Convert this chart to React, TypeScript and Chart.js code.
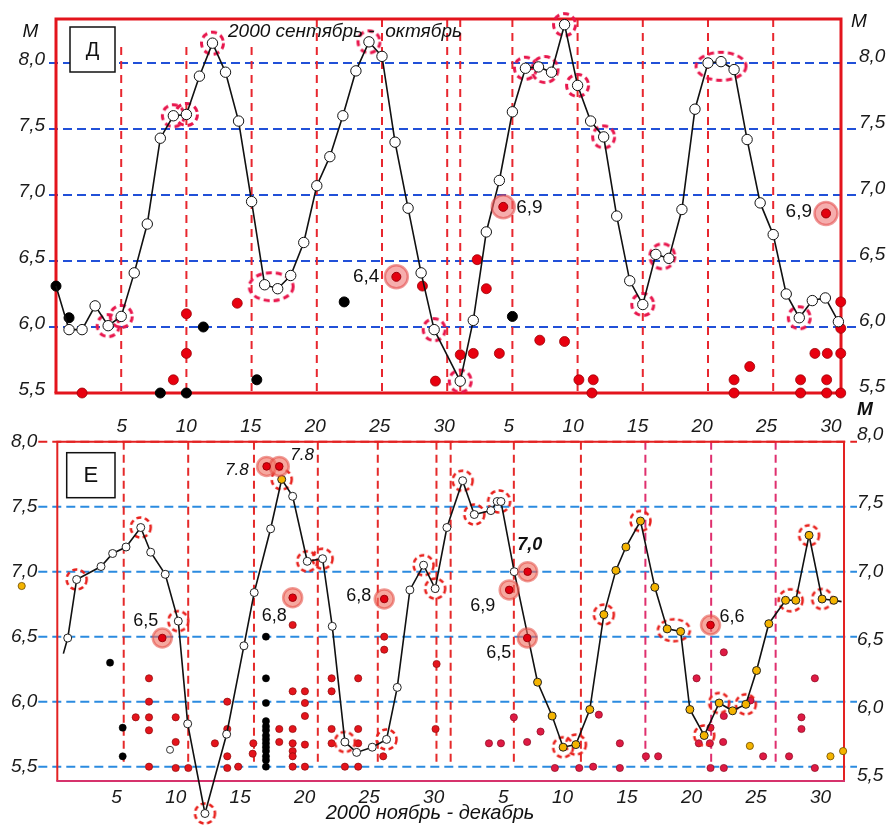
import React, { useEffect, useRef } from "react";
import { Chart, registerables } from "chart.js";

Chart.register(...registerables);

const FONT = '"Liberation Sans", Arial, Helvetica, sans-serif';

// ================= Panel Д : September – October 2000 (1–30 = Sep, 31–60 = Oct) =================
const topDays = [0, 1, 2, 3, 4, 5, 6, 7, 8, 9, 10, 11, 12, 13, 14, 15, 16, 17, 18, 19, 20, 21, 22, 23, 24, 25, 26, 27, 28, 29,
  31, 32, 33, 34, 35, 36, 37, 38, 39, 40, 41, 42, 43, 44, 45, 46, 47, 48, 49, 50, 51, 52, 53, 54, 55, 56, 57, 58, 59, 60];
const topValues = [6.31, 5.98, 5.98, 6.16, 6.01, 6.08, 6.41, 6.78, 7.43, 7.60, 7.61, 7.90, 8.15, 7.93, 7.56, 6.95, 6.32, 6.29, 6.39, 6.64,
  7.07, 7.29, 7.60, 7.94, 8.16, 8.05, 7.40, 6.90, 6.41, 5.98,
  5.59, 6.05, 6.72, 7.11, 7.63, 7.96, 7.97, 7.93, 8.29, 7.83, 7.56, 7.44, 6.84, 6.35, 6.17, 6.55, 6.52, 6.89, 7.65, 8.00,
  8.01, 7.95, 7.42, 6.94, 6.70, 6.25, 6.07, 6.20, 6.22, 6.04];
const topBlackX = [0, 1, 8, 10, 11.3, 15.4, 22.1, 35];
const topBlackY = [6.31, 6.07, 5.5, 5.5, 6.0, 5.6, 6.19, 6.08];
const topRedX = [2, 9, 10, 10, 13.9, 28.1, 29.1, 31, 32, 32.3, 33, 34, 37.1, 39, 40.1, 41.2, 41.1, 52, 52, 53.2,
  57.1, 57.1, 58.2, 59.1, 59.15, 59.1, 60.18, 60.18, 60.18, 60.18];
const topRedY = [5.5, 5.6, 6.10, 5.80, 6.18, 6.31, 5.59, 5.79, 5.80, 6.51, 6.29, 5.80, 5.90, 5.89, 5.60, 5.60, 5.5, 5.6, 5.5, 5.70,
  5.6, 5.5, 5.80, 5.6, 5.80, 5.5, 5.80, 5.99, 6.19, 5.5];
const topHaloX = [26.1, 34.3, 59.05];
const topHaloY = [6.38, 6.91, 6.86];
const topHaloText = ["6,4", "6,9", "6,9"];
const topRingGroups = [[4], [5], [9], [10], [12], [16, 17], [24], [29], [31], [36], [37, 38], [39], [40], [42], [45], [46, 47], [50, 52], [57]];
const topVLines = [5, 10, 15, 20, 25, 30, 31, 35, 40, 45, 50, 55];
const topHLines = [6, 6.5, 7, 7.5, 8];

// ================= Panel Е : November – December 2000 (1–30 = Nov, 31–61 = Dec) =================
const bottomX = [0.47, 0.81, 1.50, 3.39, 4.29, 5.33, 6.47, 7.24, 8.37, 9.38, 10.11, 11.45, 13.13, 14.47, 15.27, 16.54, 17.40, 18.25,
  19.38, 20.57, 21.32, 22.30, 23.21, 24.42, 25.53, 26.36, 27.34, 28.40, 29.30, 30.21, 31.43, 32.33, 33.62, 34.11, 34.40, 35.43,
  37.24, 38.37, 39.22, 40.21, 41.29, 42.38, 43.31, 44.09, 45.22, 46.33, 47.29, 48.33, 49.05, 50.16, 51.32, 52.36, 53.39, 54.22,
  55.17, 56.47, 57.26, 58.29, 59.30, 60.21, 60.81];
const bottomY = [6.37, 6.49, 6.94, 7.04, 7.14, 7.19, 7.34, 7.15, 6.98, 6.62, 5.83, 5.14, 5.75, 6.43, 6.84, 7.33, 7.71, 7.58,
  7.08, 7.10, 6.58, 5.69, 5.61, 5.65, 5.71, 6.11, 6.86, 7.05, 6.87, 7.34, 7.70, 7.44, 7.47, 7.54, 7.54, 7.00,
  6.15, 5.89, 5.65, 5.67, 5.94, 6.67, 7.01, 7.19, 7.39, 6.88, 6.56, 6.54, 5.94, 5.74, 5.99, 5.93, 5.98, 6.24,
  6.60, 6.78, 6.78, 7.28, 6.79, 6.78, 6.77];
// marker kind per point: "-" none, "w" white, "o" orange
const bottomKind = ("-" + "w".repeat(15) + "o" + "w".repeat(19) + "o".repeat(24) + "-").split("");
const bottomBlackX = [4.09, 5.07, 5.07, 16.18, 16.18, 16.18, 16.18, 16.18, 16.18, 16.18, 16.18, 16.18, 16.18, 16.18, 16.18, 16.18, 16.18];
const bottomBlackY = [6.30, 5.80, 5.58, 6.50, 6.18, 5.99, 5.85, 5.81, 5.78, 5.74, 5.71, 5.68, 5.65, 5.62, 5.58, 5.55, 5.50];
const bottomRedX = [6.08, 7.11, 7.11, 7.11, 7.11, 7.11, 9.18, 9.18, 9.18, 10.16, 12.22, 13.18, 13.18, 13.18, 13.18, 14.03, 15.15, 15.2,
  17.21, 17.21, 18.25, 18.25, 18.25, 18.25, 18.25, 18.25, 18.25, 19.2, 19.2, 19.2, 19.2, 19.2, 21.27, 21.27, 21.27, 21.27, 22.3,
  23.33, 23.33, 23.33, 23.33, 25.35, 25.35, 25.27, 29.41, 29.33];
const bottomRedY = [5.88, 6.18, 6.00, 5.88, 5.78, 5.50, 5.88, 5.69, 5.49, 5.49, 5.68, 6.00, 5.79, 5.58, 5.49, 5.50, 5.60, 5.68,
  5.79, 5.69, 6.59, 6.08, 5.79, 5.68, 5.62, 5.58, 5.50, 6.08, 5.99, 5.89, 5.67, 5.50, 6.18, 6.08, 5.79, 5.68, 5.50,
  6.18, 5.79, 5.68, 5.50, 6.50, 6.40, 5.58, 6.29, 5.79];
const bottomDecX = [33.47, 34.4, 35.4, 36.43, 37.47, 38.58, 40.47, 41.55, 41.99, 43.62, 43.62, 45.64, 46.59, 49.57, 49.74, 50.6,
  50.65, 50.65, 51.68, 51.68, 51.63, 51.68, 53.75, 54.73, 56.74, 57.7, 57.7, 58.74, 58.74];
const bottomDecY = [5.68, 5.68, 5.88, 5.69, 5.77, 5.49, 5.49, 5.50, 5.90, 5.68, 5.49, 5.58, 5.58, 6.18, 5.68, 5.68,
  5.80, 5.49, 6.38, 5.89, 5.69, 5.49, 6.01, 5.58, 5.58, 5.88, 5.79, 6.18, 5.49];
const bottomOrangeX = [-2.76, 53.7, 59.95, 60.93];
const bottomOrangeY = [6.89, 5.66, 5.58, 5.62];
const bottomOpenX = [8.74];
const bottomOpenY = [5.63];
const bottomHaloX = [16.23, 17.21, 8.14, 18.25, 25.35, 35.04, 36.47, 36.44, 50.65];
const bottomHaloY = [7.81, 7.81, 6.49, 6.80, 6.79, 6.86, 7.00, 6.49, 6.59];
const bottomHaloText = ["7.8", "7.8", "6,5", "6,8", "6,8", "6,9", "7,0", "6,5", "6,6"];
const bottomRingGroups = [[2], [6], [9], [11], [16], [18], [19], [21], [24], [27], [28], [30], [31], [33, 34], [38], [39], [41], [44],
  [46, 47], [49], [50], [52], [55, 56], [57], [58]];
const bottomVLines = [5.15, 10.15, 15.25, 20.2, 24.85, 29.4, 30.5, 35.4, 40.6, 45.6, 50.7, 55.7];
const bottomHLines = [5.5, 6, 6.5, 7, 7.5, 8];

const yTickValues = [5.5, 6, 6.5, 7, 7.5, 8];
const xTickValues = [5, 10, 15, 20, 25, 30, 35, 40, 45, 50, 55, 60];

// ================= styles (kept apart from data) =================
const topRingSize = [[22, 22], [22, 22], [22, 22], [22, 22], [22, 22], [44, 28], [22, 22], [22, 22], [22, 22], [22, 22], [26, 26],
  [22, 22], [22, 22], [22, 22], [22, 22], [25, 25], [50, 28], [22, 22]];
const bottomRingSize = [[20, 20], [20, 20], [20, 20], [20, 20], [20, 20], [20, 20], [20, 20], [20, 20], [20, 20], [20, 20], [20, 20],
  [20, 20], [20, 20], [22, 22], [20, 20], [20, 20], [20, 20], [20, 20], [32, 22], [20, 20], [20, 20], [20, 20], [24, 22], [20, 20], [20, 20]];
const topHaloStyle = [
  { dx: -17, dy: 0, align: "right", font: `19px ${FONT}` },
  { dx: 13, dy: 1, align: "left", font: `19px ${FONT}` },
  { dx: -14, dy: -2, align: "right", font: `19px ${FONT}` },
];
const bottomHaloStyle = [
  { dx: -18, dy: 4, align: "right", font: `italic 17px ${FONT}` },
  { dx: 11, dy: -11, align: "left", font: `italic 17px ${FONT}` },
  { dx: -4, dy: -17, align: "right", font: `18px ${FONT}` },
  { dx: -6, dy: 18, align: "right", font: `18px ${FONT}` },
  { dx: -13, dy: -3, align: "right", font: `18px ${FONT}` },
  { dx: -14, dy: 16, align: "right", font: `18px ${FONT}` },
  { dx: 2, dy: -27, align: "center", font: `italic bold 18px ${FONT}` },
  { dx: -16, dy: 15, align: "right", font: `18px ${FONT}` },
  { dx: 9, dy: -8, align: "left", font: `18px ${FONT}` },
];

const fmtM = (v: number) => Number(v).toFixed(1).replace(".", ",");
const dayLabel = (v: number) => String(v > 30 ? v - 30 : v);
const avg = (a: number[]) => a.reduce((s, v) => s + v, 0) / a.length;
const pts = (xs: number[], ys: number[]) => xs.map((x, i) => ({ x, y: ys[i] }));

function ringImage(w: number, h: number, color: string, lw: number, dash: number[]) {
  const c = document.createElement("canvas");
  c.width = Math.ceil(w + lw + 4);
  c.height = Math.ceil(h + lw + 4);
  const g = c.getContext("2d")!;
  g.strokeStyle = color;
  g.lineWidth = lw;
  g.setLineDash(dash);
  g.beginPath();
  g.ellipse(c.width / 2, c.height / 2, w / 2, h / 2, 0, 0, Math.PI * 2);
  g.stroke();
  return c;
}

function fixedSize(size: number, horizontal: boolean) {
  return (s: any) => {
    if (horizontal) s.height = size;
    else s.width = size;
    s.paddingTop = 0;
    s.paddingBottom = 0;
    s.paddingLeft = 0;
    s.paddingRight = 0;
  };
}
const setTicks = (vals: number[]) => (s: any) => {
  s.ticks = vals.map((v) => ({ value: v }));
};

function makeDecor(cfg: any) {
  return {
    id: "decor",
    beforeDatasetsDraw(chart: any) {
      const { ctx, chartArea: a } = chart;
      const xs = chart.scales.x;
      const ys = chart.scales.y;
      ctx.save();
      ctx.lineWidth = cfg.gridWidth;
      ctx.setLineDash(cfg.hDash);
      cfg.hLines.forEach((v: number) => {
        const py = ys.getPixelForValue(v);
        ctx.strokeStyle = v === cfg.redHLine ? cfg.frameColor : cfg.hColor;
        ctx.beginPath();
        ctx.moveTo(a.left - cfg.extL, py);
        ctx.lineTo(a.right + cfg.extR, py);
        ctx.stroke();
      });
      ctx.setLineDash(cfg.vDash);
      cfg.vLines.forEach((v: number, i: number) => {
        const px = xs.getPixelForValue(v);
        const y0 = cfg.vFrom ? Math.max(ys.getPixelForValue(cfg.vFrom[i]), a.top) : a.top;
        const y1 = cfg.vTo != null ? ys.getPixelForValue(cfg.vTo) : a.bottom;
        ctx.strokeStyle = cfg.vColors[i];
        ctx.beginPath();
        ctx.moveTo(px, y0);
        ctx.lineTo(px, y1);
        ctx.stroke();
      });
      ctx.setLineDash([]);
      ctx.lineWidth = cfg.frameWidth;
      ctx.strokeStyle = cfg.frameColor;
      ctx.beginPath();
      ctx.moveTo(a.left, a.bottom);
      ctx.lineTo(a.left, a.top);
      ctx.lineTo(a.right, a.top);
      ctx.lineTo(a.right, a.bottom);
      ctx.stroke();
      ctx.strokeStyle = cfg.frameBottomColor;
      ctx.beginPath();
      ctx.moveTo(a.left - cfg.frameWidth / 2, a.bottom);
      ctx.lineTo(a.right + cfg.frameWidth / 2, a.bottom);
      ctx.stroke();
      ctx.restore();
    },
    afterDraw(chart: any) {
      const { ctx } = chart;
      const xs = chart.scales.x;
      const ys = chart.scales.y;
      ctx.save();
      ctx.textBaseline = "middle";
      const b = cfg.box;
      ctx.fillStyle = "#fff";
      ctx.fillRect(b.x, b.y, b.w, b.h);
      ctx.strokeStyle = "#111";
      ctx.lineWidth = 1.5;
      ctx.strokeRect(b.x, b.y, b.w, b.h);
      ctx.fillStyle = "#111";
      ctx.font = b.font;
      ctx.textAlign = "center";
      ctx.fillText(b.text, b.x + b.w / 2, b.y + b.h / 2 + 1);
      cfg.texts.forEach((t: any) => {
        ctx.font = t.font;
        ctx.textAlign = t.align || "center";
        ctx.fillStyle = "#111";
        ctx.fillText(t.text, t.x, t.y);
      });
      cfg.haloX.forEach((hx: number, i: number) => {
        const s = cfg.haloStyle[i];
        ctx.font = s.font;
        ctx.textAlign = s.align;
        ctx.fillStyle = "#111";
        ctx.fillText(cfg.haloText[i], xs.getPixelForValue(hx) + s.dx, ys.getPixelForValue(cfg.haloY[i]) + s.dy);
      });
      ctx.restore();
    },
  };
}

const tickFont = { family: FONT, size: 19, style: "italic" as const };

function yAxis(position: string, min: number, max: number, width: number, padding: number, labelOffset: number) {
  return {
    type: "linear",
    position,
    min,
    max,
    grid: { display: false, drawTicks: false },
    border: { display: false },
    afterBuildTicks: setTicks(yTickValues),
    afterFit: fixedSize(width, false),
    ticks: { callback: fmtM, padding, labelOffset, color: "#1a1a1a", font: tickFont, autoSkip: false },
  };
}

function xAxis(position: string, height: number, padding: number, align: string) {
  return {
    type: "linear",
    position,
    min: 0,
    max: 61,
    grid: { display: false, drawTicks: false },
    border: { display: false },
    afterBuildTicks: setTicks(xTickValues),
    afterFit: fixedSize(height, true),
    ticks: { callback: dayLabel, padding, align, color: "#1a1a1a", font: tickFont, autoSkip: false, maxRotation: 0 },
  };
}

function topConfig(): any {
  const series = topDays.map((d, i) => ({ x: d, y: topValues[i] }));
  const ringPts = topRingGroups.map((g) => {
    const idx = g.map((d) => topDays.indexOf(d));
    return { x: avg(idx.map((i) => topDays[i])), y: avg(idx.map((i) => topValues[i])) };
  });
  const ringStyles = topRingSize.map(([w, h]) => ringImage(w, h, "#e8174d", 3, [6, 4]));
  const halos = pts(topHaloX, topHaloY);
  return {
    type: "scatter",
    data: {
      datasets: [
        { label: "peak", data: halos, pointRadius: 4.5, pointBackgroundColor: "#e3000f", pointBorderColor: "#9c0008", pointBorderWidth: 1, order: 0 },
        { label: "halo", data: halos, pointRadius: 11.5, pointBackgroundColor: "rgba(238,105,105,0.55)", pointBorderColor: "rgba(225,70,70,0.55)", pointBorderWidth: 2.5, order: 1 },
        {
          label: "M", data: series, showLine: true, borderColor: "#111", borderWidth: 1.6, tension: 0,
          pointRadius: topDays.map((d) => (d === 0 ? 0 : 5.2)), pointBackgroundColor: "#fff", pointBorderColor: "#111",
          pointBorderWidth: 1, pointHoverRadius: 30, clip: false, order: 2,
        },
        { label: "rings", data: ringPts, pointStyle: ringStyles, pointRadius: 11, pointBorderWidth: 0, pointHoverRadius: 40, clip: false, order: 3 },
        { label: "black", data: pts(topBlackX, topBlackY), pointRadius: 5, pointBackgroundColor: "#000", pointBorderColor: "#000", pointBorderWidth: 1, clip: false, order: 4 },
        { label: "red", data: pts(topRedX, topRedY), pointRadius: 5, pointBackgroundColor: "#e8000f", pointBorderColor: "#9a0008", pointBorderWidth: 0.8, clip: false, order: 5 },
      ],
    },
    options: {
      responsive: false,
      animation: false,
      events: [],
      layout: { autoPadding: false, padding: { top: 19, bottom: 7, left: 0, right: 0 } },
      plugins: { legend: { display: false }, tooltip: { enabled: false } },
      scales: {
        x: { type: "linear", min: 0, max: 60.2, display: false },
        y: yAxis("left", 5.5, 8.333, 56, 11, -3.5),
        y2: yAxis("right", 5.5, 8.333, 50, 18, -6.5),
      },
    },
    plugins: [
      makeDecor({
        hLines: topHLines, hColor: "#2150d8", hDash: [9, 5], gridWidth: 2, extL: 7, extR: 19, redHLine: null,
        vLines: topVLines, vColors: topVLines.map(() => "#e8262e"), vDash: [8, 6],
        vFrom: [8.12, 8.12, 8.12, 9, 9, 9, 9, 9, 9, 9, 9, 9], vTo: null,
        frameWidth: 3, frameColor: "#e3141c", frameBottomColor: "#e3141c",
        box: { x: 70, y: 27, w: 45, h: 45, text: "Д", font: `20px ${FONT}` },
        texts: [
          { text: "M", x: 30.5, y: 32, font: `italic 19px ${FONT}` },
          { text: "M", x: 859, y: 22, font: `italic 19px ${FONT}` },
          { text: "2000 сентябрь -  октябрь", x: 345, y: 32, font: `italic 19px ${FONT}` },
        ],
        haloX: topHaloX, haloY: topHaloY, haloText: topHaloText, haloStyle: topHaloStyle,
      }),
    ],
  };
}

function bottomConfig(): any {
  const series = pts(bottomX, bottomY);
  const ringPts = bottomRingGroups.map((g) => ({ x: avg(g.map((i) => bottomX[i])), y: avg(g.map((i) => bottomY[i])) }));
  const ringStyles = bottomRingSize.map(([w, h]) => ringImage(w, h, "#e8211d", 2.5, [5, 3.5]));
  const halos = pts(bottomHaloX, bottomHaloY);
  return {
    type: "scatter",
    data: {
      datasets: [
        { label: "peak", data: halos, pointRadius: 3.8, pointBackgroundColor: "#e3000f", pointBorderColor: "#9c0008", pointBorderWidth: 1, order: 0 },
        { label: "halo", data: halos, pointRadius: 9.5, pointBackgroundColor: "rgba(240,110,95,0.6)", pointBorderColor: "rgba(228,75,65,0.55)", pointBorderWidth: 2.5, order: 1 },
        {
          label: "M", data: series, showLine: true, borderColor: "#111", borderWidth: 1.6, tension: 0,
          pointRadius: bottomKind.map((k) => (k === "-" ? 0 : 4)),
          pointBackgroundColor: bottomKind.map((k) => (k === "o" ? "#f4b400" : "#fff")),
          pointBorderColor: "#222", pointBorderWidth: 1, pointHoverRadius: 60, clip: false, order: 2,
        },
        { label: "open", data: pts(bottomOpenX, bottomOpenY), pointRadius: 3.5, pointBackgroundColor: "#fff", pointBorderColor: "#333", pointBorderWidth: 1, order: 3 },
        { label: "rings", data: ringPts, pointStyle: ringStyles, pointRadius: 10, pointBorderWidth: 0, pointHoverRadius: 60, clip: false, order: 4 },
        { label: "black", data: pts(bottomBlackX, bottomBlackY), pointRadius: 3.6, pointBackgroundColor: "#000", pointBorderColor: "#000", pointBorderWidth: 0.5, order: 5 },
        { label: "red", data: pts(bottomRedX, bottomRedY), pointRadius: 3.6, pointBackgroundColor: "#e4141c", pointBorderColor: "#8e0a0a", pointBorderWidth: 0.7, order: 6 },
        { label: "red Dec", data: pts(bottomDecX, bottomDecY), pointRadius: 3.6, pointBackgroundColor: "#de1a44", pointBorderColor: "#8a0a20", pointBorderWidth: 0.7, order: 7 },
        { label: "orange", data: pts(bottomOrangeX, bottomOrangeY), pointRadius: 3.6, pointBackgroundColor: "#f4b400", pointBorderColor: "#6b4a00", pointBorderWidth: 0.8, pointHoverRadius: 60, clip: false, order: 8 },
      ],
    },
    options: {
      responsive: false,
      animation: false,
      events: [],
      layout: { autoPadding: false, padding: 0 },
      plugins: { legend: { display: false }, tooltip: { enabled: false } },
      scales: {
        x: xAxis("bottom", 44, 5, "end"),
        x2: xAxis("top", 41.7, 4, "center"),
        y: yAxis("left", 5.39, 8.0, 57.3, 20, 0),
        y2: yAxis("right", 5.462, 7.951, 47, 13, 0),
      },
    },
    plugins: [
      makeDecor({
        hLines: bottomHLines, hColor: "#2b8be0", hDash: [9, 5], gridWidth: 2, extL: 19, extR: 13, redHLine: 8,
        vLines: bottomVLines,
        vColors: bottomVLines.map((_, i) => (i < 9 ? "#e52a2a" : "#df2f6e")), vDash: [8, 5],
        vFrom: null, vTo: 5.5,
        frameWidth: 2, frameColor: "#e32222", frameBottomColor: "#d6336c",
        box: { x: 66.7, y: 52.7, w: 48.3, h: 45, text: "Е", font: `22px ${FONT}` },
        texts: [
          { text: "M", x: 865, y: 9.5, font: `italic bold 19px ${FONT}` },
          { text: "2000 ноябрь - декабрь", x: 430, y: 413, font: `italic 20px ${FONT}` },
        ],
        haloX: bottomHaloX, haloY: bottomHaloY, haloText: bottomHaloText, haloStyle: bottomHaloStyle,
      }),
    ],
  };
}

export default function App() {
  const topRef = useRef<HTMLCanvasElement>(null);
  const bottomRef = useRef<HTMLCanvasElement>(null);

  useEffect(() => {
    const c1 = new Chart(topRef.current as HTMLCanvasElement, topConfig());
    const c2 = new Chart(bottomRef.current as HTMLCanvasElement, bottomConfig());
    return () => {
      c1.destroy();
      c2.destroy();
    };
  }, []);

  return (
    <div style={{ position: "absolute", left: 0, top: 0, width: 891, height: 825, overflow: "hidden", background: "#fff" }}>
      <canvas ref={topRef} width={891} height={400} style={{ position: "absolute", left: 0, top: 0 }} />
      <canvas ref={bottomRef} width={891} height={425} style={{ position: "absolute", left: 0, top: 400 }} />
    </div>
  );
}
